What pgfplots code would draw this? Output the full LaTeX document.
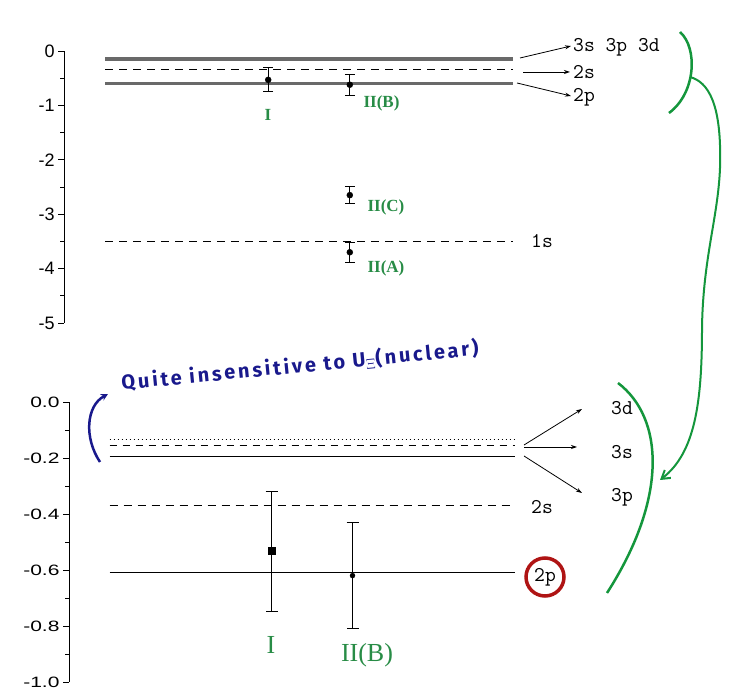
\documentclass[border=0pt]{standalone}
\usepackage{pgfplots}
\pgfplotsset{compat=1.18}
\usepackage{fontspec}
\setmainfont{Liberation Serif}
\newfontfamily\sans{Liberation Sans}
\newfontfamily\sanswide{Liberation Sans}[FakeStretch=1.4]
\newfontfamily\hand{Fira Sans}[LetterSpace=14]
\usetikzlibrary{arrows.meta}

\definecolor{levelgray}{RGB}{105,105,105}
\definecolor{notegreen}{RGB}{20,150,60}
\definecolor{labgreen}{RGB}{40,140,70}
\definecolor{noteblue}{RGB}{25,25,140}
\definecolor{notered}{RGB}{175,20,20}

\pgfplotsset{
  level axis/.style={
    anchor=south west, clip=false,
    axis x line=none, axis y line*=left,
    xmin=-1, xmax=10.5,
    ytick pos=left, tick align=outside,
    major tick length=6pt, minor tick length=4pt,
    minor y tick num=1,
    axis line style={line width=1pt},
    every tick/.style={line width=0.9pt, black},
    /pgf/number format/assume math mode=true,
  },
  errpts/.style={
    only marks, black,
    /pgfplots/error bars/y dir=both,
    /pgfplots/error bars/y explicit,
    /pgfplots/error bars/error bar style={line width=1pt, black},
    /pgfplots/error bars/error mark options={rotate=90, mark size=#1, line width=1pt, black},
  },
}

\begin{document}
\begin{tikzpicture}[x=1pt,y=1pt]
\path (0,0) rectangle (730,688);

% ---------- upper panel: full energy range ----------
\begin{axis}[level axis,
  at={(64.2pt,365pt)}, x=40.8pt, y=54.4pt,
  ymin=-5, ymax=0, ytick={-5,-4,...,0},
  yticklabel style={font=\sans\fontsize{18}{20}\selectfont},
]
\addplot[levelgray, line width=3.5pt] coordinates {(0,-0.15) (10,-0.15)};
\addplot[black, line width=1.3pt, dash pattern=on 8pt off 6pt] coordinates {(0,-0.34) (10,-0.34)};
\addplot[levelgray, line width=3pt] coordinates {(0,-0.60) (10,-0.60)};
\addplot[black, line width=1.3pt, dash pattern=on 8pt off 6pt] coordinates {(0,-3.50) (10,-3.50)};
\addplot[errpts=5pt, mark=*, mark size=3pt]
  coordinates {
    (4,-0.53) += (0,0.23) -= (0,0.21)
    (6,-0.62) += (0,0.18) -= (0,0.19)
    (6,-2.65) += (0,0.15) -= (0,0.15)
    (6,-3.70) += (0,0.18) -= (0,0.18)
  };
\end{axis}

% ---------- lower panel: zoom on the shallow levels ----------
\begin{axis}[level axis,
  at={(69pt,6pt)}, x=40.5pt, y=280pt,
  ymin=-1, ymax=0, ytick={-1,-0.8,...,0},
  yticklabel style={font=\sanswide\fontsize{15}{17}\selectfont,
    /pgf/number format/.cd, fixed, fixed zerofill, precision=1},
]
\addplot[black, line width=1pt, dash pattern=on 1.5pt off 2.5pt] coordinates {(0,-0.135) (10,-0.135)};
\addplot[black, line width=1.2pt, dash pattern=on 7pt off 6pt] coordinates {(0,-0.155) (10,-0.155)};
\addplot[black, line width=1.2pt] coordinates {(0,-0.195) (10,-0.195)};
\addplot[black, line width=1.3pt, dash pattern=on 8pt off 6pt] coordinates {(0,-0.37) (10,-0.37)};
\addplot[black, line width=1.3pt] coordinates {(0,-0.61) (10,-0.61)};
\addplot[errpts=6pt, mark=square*, mark size=3.5pt] coordinates {(4,-0.53) += (0,0.21) -= (0,0.22)};
\addplot[errpts=6pt, mark=*, mark size=2.5pt] coordinates {(6,-0.62) += (0,0.19) -= (0,0.19)};
\end{axis}

% level names
\begin{scope}[font=\ttfamily\fontsize{21}{23}\selectfont, inner sep=1pt]
\node[anchor=west] at (572,641) {3s 3p 3d};
\node[anchor=west] at (572,616) {2s};
\node[anchor=west] at (572,591) {2p};
\node[anchor=west] at (530,447) {1s};
\node[anchor=west] at (610,280) {3d};
\node[anchor=west] at (610,236) {3s};
\node[anchor=west] at (610,191) {3p};
\node[anchor=west] at (530,181) {2s};
\node at (545,111) {2p};
\end{scope}
\begin{scope}[line width=0.8pt, -{Stealth[length=6pt,width=4pt]}]
\draw (520,630) -- (571,642);
\draw (523,616) -- (570,616);
\draw (517,605) -- (571,592);
\draw (524,243) -- (582,279);
\draw (524,241) -- (577,241);
\draw (524,232) -- (582,195);
\end{scope}

% hand annotations
\draw[notered, line width=3.5pt] (545,111) circle (19);
\begin{scope}[labgreen]
\node[font=\bfseries\fontsize{17}{19}\selectfont] at (268,573) {I};
\node[anchor=west, font=\bfseries\fontsize{17}{19}\selectfont] at (360,585) {II(B)};
\node[anchor=west, font=\bfseries\fontsize{17}{19}\selectfont] at (364,481) {II(C)};
\node[anchor=west, font=\bfseries\fontsize{17}{19}\selectfont] at (364,420) {II(A)};
\node[font=\fontsize{26}{28}\selectfont] at (271,43) {I};
\node[font=\fontsize{26}{28}\selectfont] at (367,33) {II(B)};
\end{scope}
\begin{scope}[notegreen, line width=2.5pt]
\draw (680,656) .. controls (698,640) and (696,595) .. (669,575);
\draw (618,305) .. controls (664,270) and (668,190) .. (607,95);
\draw[line width=2pt, -{Straight Barb[length=8pt,width=10pt]}]
  (690,611) .. controls (708,606) and (722,585) .. (720,520)
  .. controls (718,470) and (703,430) .. (702,360)
  .. controls (702,285) and (695,235) .. (660,208);
\end{scope}
\draw[noteblue, line width=2.5pt, -{Stealth[length=7pt,width=7pt]}]
  (100,226) .. controls (84,250) and (86,282) .. (108,294);
\node[noteblue, anchor=base west, rotate=5.6, inner sep=0pt,
  font=\hand\bfseries\fontsize{20}{22}\selectfont] at (122,298)
  {Quite insensitive to U$_{\Xi}$(nuclear)};
\end{tikzpicture}
\end{document}
